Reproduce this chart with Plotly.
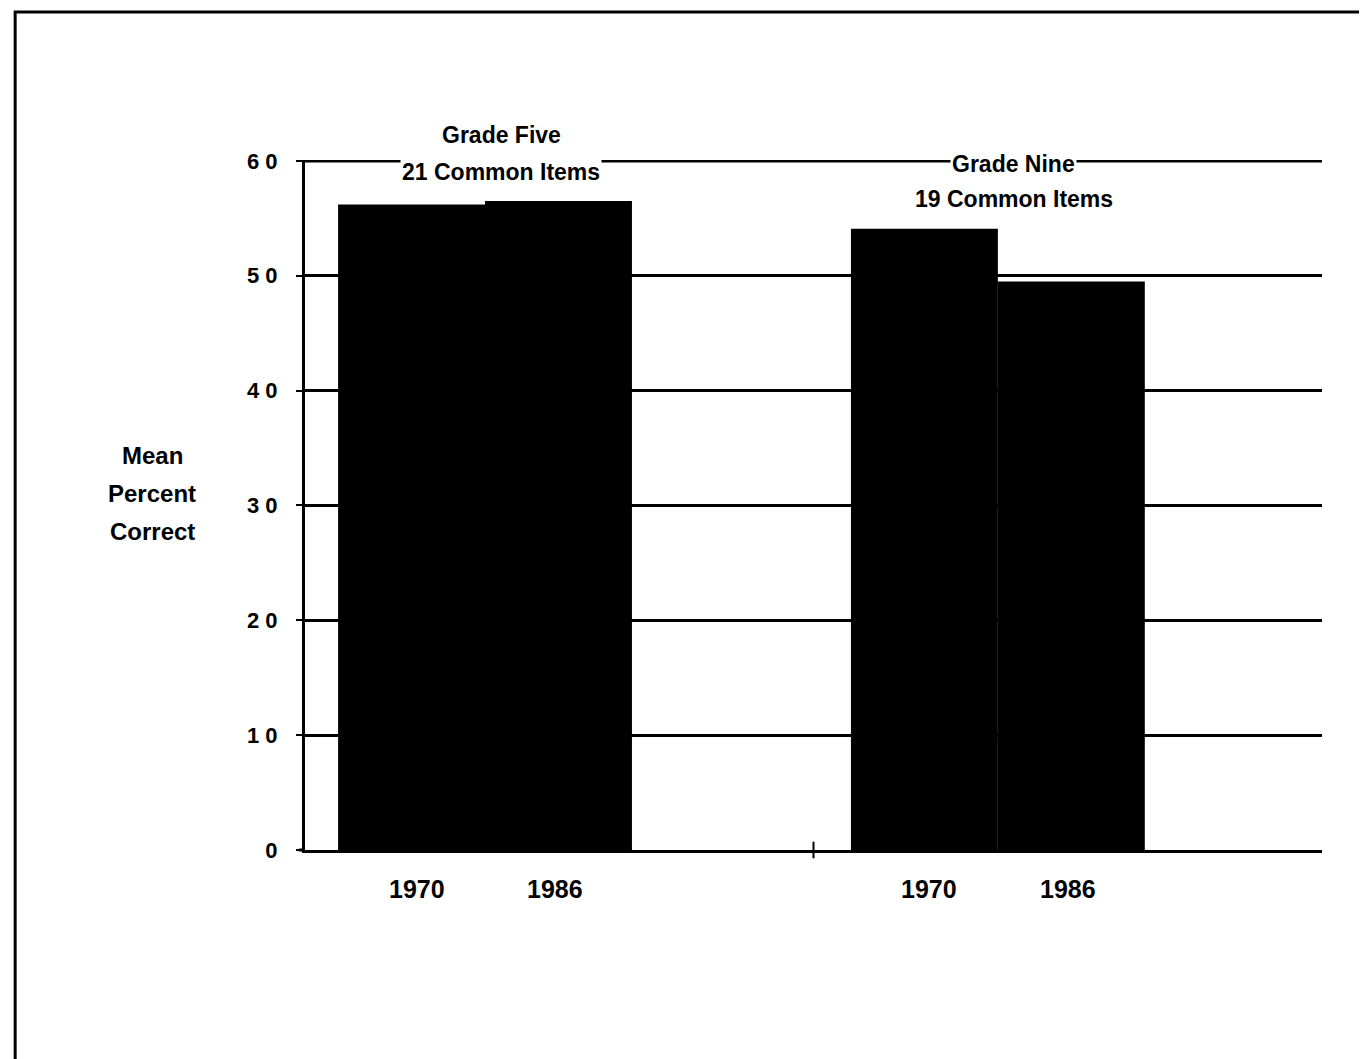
import plotly.graph_objects as go

groups = ["Grade Five", "Grade Nine"]
group_titles = [["Grade Five", "21 Common Items"], ["Grade Nine", "19 Common Items"]]
years = ["1970", "1986"]
values_1970 = [56.2, 54.1]
values_1986 = [56.5, 49.5]
y_ticks = [0, 10, 20, 30, 40, 50, 60]
y_ticktext = ["0", "1 0", "2 0", "3 0", "4 0", "5 0", "6 0"]
y_title_lines = ["Mean", "Percent", "Correct"]

FONT = "Liberation Sans, Arial, sans-serif"
bargap = 0.427
pos = list(range(len(groups)))

fig = go.Figure()
for yr, vals in zip(years, [values_1970, values_1986]):
    fig.add_trace(go.Bar(x=pos, y=vals, name=yr, marker=dict(color="black", line=dict(width=0)),
                         showlegend=False, hoverinfo="x+y"))

annotations = []
half = (1 - bargap) / 4
for i in pos:
    for j, yr in enumerate(years):
        annotations.append(dict(x=i + (-half if j == 0 else half), y=0, xref="x", yref="y",
                                text="<b>" + yr + "</b>", showarrow=False, yshift=-39,
                                xshift=(5 if j == 0 else -3),
                                font=dict(family=FONT, size=25, color="black")))
# group titles
title_shifts = [[26, -11], [-3, -38]]
for i, (lines, shifts) in enumerate(zip(group_titles, title_shifts)):
    for line, s in zip(lines, shifts):
        annotations.append(dict(x=i, y=60, xref="x", yref="y", text="<b>" + line + "</b>",
                                showarrow=False, yshift=s, xshift=16, bgcolor="white",
                                borderpad=1,
                                font=dict(family=FONT, size=23, color="black")))
for k, line in enumerate(y_title_lines):
    annotations.append(dict(x=-0.15, y=0.516, xref="paper", yref="paper", text="<b>" + line + "</b>",
                            showarrow=False, yshift=-38 * k + 38, xanchor="center",
                            font=dict(family=FONT, size=24, color="black")))

fig.update_layout(
    width=1367, height=1059,
    margin=dict(l=297, r=53, t=152, b=217),
    paper_bgcolor="white", plot_bgcolor="white",
    barmode="group", bargap=bargap, bargroupgap=0,
    annotations=annotations,
    shapes=[
        dict(type="rect", xref="paper", yref="paper", x0=-0.285, x1=1.06, y0=-0.32, y1=1.2145,
             line=dict(color="black", width=3)),
        dict(type="line", xref="paper", yref="paper", x0=0.5, x1=0.5, y0=-0.012, y1=0.012,
             line=dict(color="black", width=2)),
        dict(type="line", xref="x domain", yref="y", x0=0, x1=1, y0=max(y_ticks), y1=max(y_ticks),
             line=dict(color="black", width=3), layer="below"),
        dict(type="line", xref="paper", yref="paper", x0=-0.006, x1=0, y0=0, y1=0,
             line=dict(color="black", width=3)),
    ],
    xaxis=dict(range=[-0.351, 1.632], showticklabels=False, ticks="", showgrid=False,
               showline=True, linecolor="black", linewidth=3, zeroline=False, fixedrange=True),
    yaxis=dict(range=[0, 60.08], tickvals=y_ticks, ticktext=y_ticktext, ticks="outside", ticklen=6,
               tickwidth=2, tickcolor="black", ticklabelstandoff=14,
               showgrid=True, gridcolor="black", gridwidth=3, showline=True, linecolor="black",
               linewidth=3, zeroline=False,
               tickfont=dict(family=FONT, size=22, color="black", weight="bold")),
)

fig.write_html("out.html")
